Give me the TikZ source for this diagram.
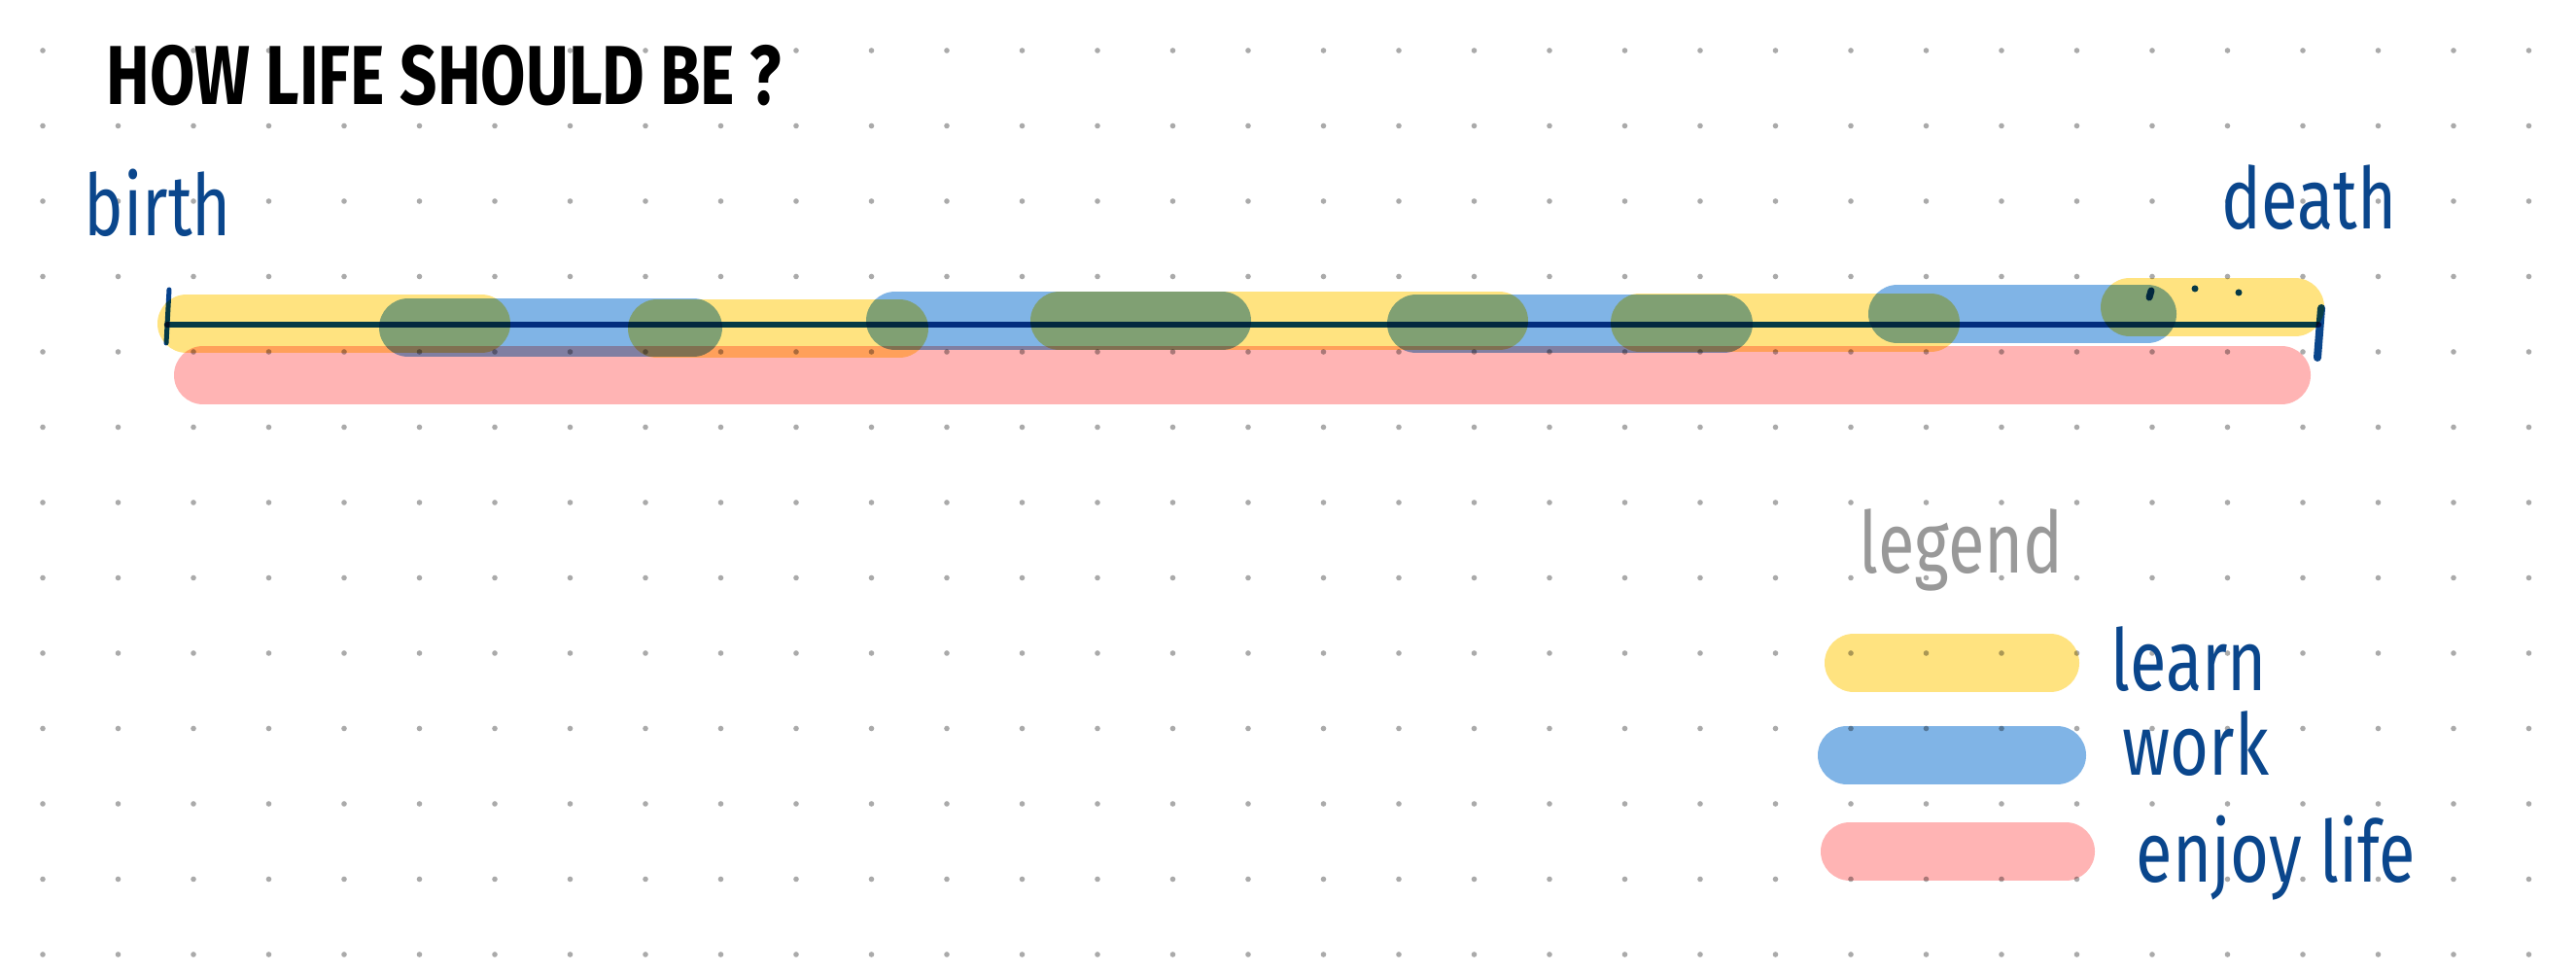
\documentclass[tikz,border=0pt]{standalone}
\usepackage{fontspec}
\newfontfamily\handfont[FakeStretch=0.78]{Fira Sans}
\definecolor{learnyellow}{HTML}{FFE380}
\definecolor{workblue}{HTML}{80B4E6}
\definecolor{enjoypink}{HTML}{FFB4B4}
\definecolor{linecol}{HTML}{05418C}
\definecolor{inkblue}{HTML}{0A468C}
\definecolor{legendgray}{HTML}{999999}
\definecolor{dotgray}{HTML}{AAAAAA}

\begin{document}
\begin{tikzpicture}[
    griddot/.style={fill=dotgray},
    hlbar/.style={line width=6mm, line cap=round, blend mode=multiply},
    learnbar/.style={hlbar, draw=learnyellow},
    workbar/.style={hlbar, draw=workblue},
    enjoybar/.style={hlbar, draw=enjoypink},
    ink/.style={linecol, line cap=round, blend mode=multiply},
    handtext/.style={font=\handfont\fontsize{25}{30}\selectfont, text=inkblue, inner sep=0pt, anchor=base west},
]
    \useasboundingbox[fill=white] (0,0) rectangle (26.5,10);

    % Dotted paper
    \foreach \i in {0,...,33}
        \foreach \j in {0,...,12}
            \fill[griddot] ({0.44+0.775*\i},{9.48-0.775*\j}) circle (0.028);

    % Title
    \node[handtext, text=black, font=\handfont\bfseries\fontsize{24.5}{30}\selectfont] (title) at (1.09,8.92) {HOW LIFE SHOULD BE ?};

    % Life bars
    \draw[enjoybar] (2.09,6.14) -- (23.47,6.14);
    \foreach \a/\b/\y in {1.92/4.95/6.67, 6.76/9.25/6.62, 10.90/15.42/6.70, 16.87/19.86/6.68, 21.91/23.61/6.84}
        \draw[learnbar] (\a,\y) -- (\b,\y);
    \foreach \a/\b/\y in {4.20/7.13/6.63, 9.21/12.57/6.70, 14.57/17.73/6.67, 19.52/22.09/6.77}
        \draw[workbar] (\a,\y) -- (\b,\y);

    % Timeline
    \coordinate (birthpt) at (1.72,6.66);
    \coordinate (deathpt) at (23.85,6.66);
    \draw[ink, line width=0.65mm] (birthpt) -- (deathpt);
    \draw[ink, line width=0.5mm] (1.74,7.02) -- (1.71,6.47);
    \draw[ink, inkblue, line width=0.8mm] (23.88,6.83) -- (23.84,6.32);
    \draw[ink, line width=0.7mm] (22.13,7.01) -- (22.11,6.94);
    \fill[ink] (22.58,7.03) circle (0.035);
    \fill[ink] (23.03,6.99) circle (0.035);

    \node[handtext] (birth) at (0.86,7.57) {birth};
    \node[handtext] (death) at (22.85,7.64) {death};

    % Legend
    \node[handtext, text=legendgray] (legend) at (19.12,4.10) {legend};
    \draw[learnbar] (19.07,3.18) -- (21.09,3.18);
    \draw[workbar] (19.00,2.23) -- (21.16,2.23);
    \draw[enjoybar] (19.03,1.24) -- (21.25,1.24);
    \node[handtext] (learn) at (21.71,2.89) {learn};
    \node[handtext] (work) at (21.83,2.02) {work};
    \node[handtext] (enjoy) at (21.97,0.92) {enjoy life};

\end{tikzpicture}
\end{document}
